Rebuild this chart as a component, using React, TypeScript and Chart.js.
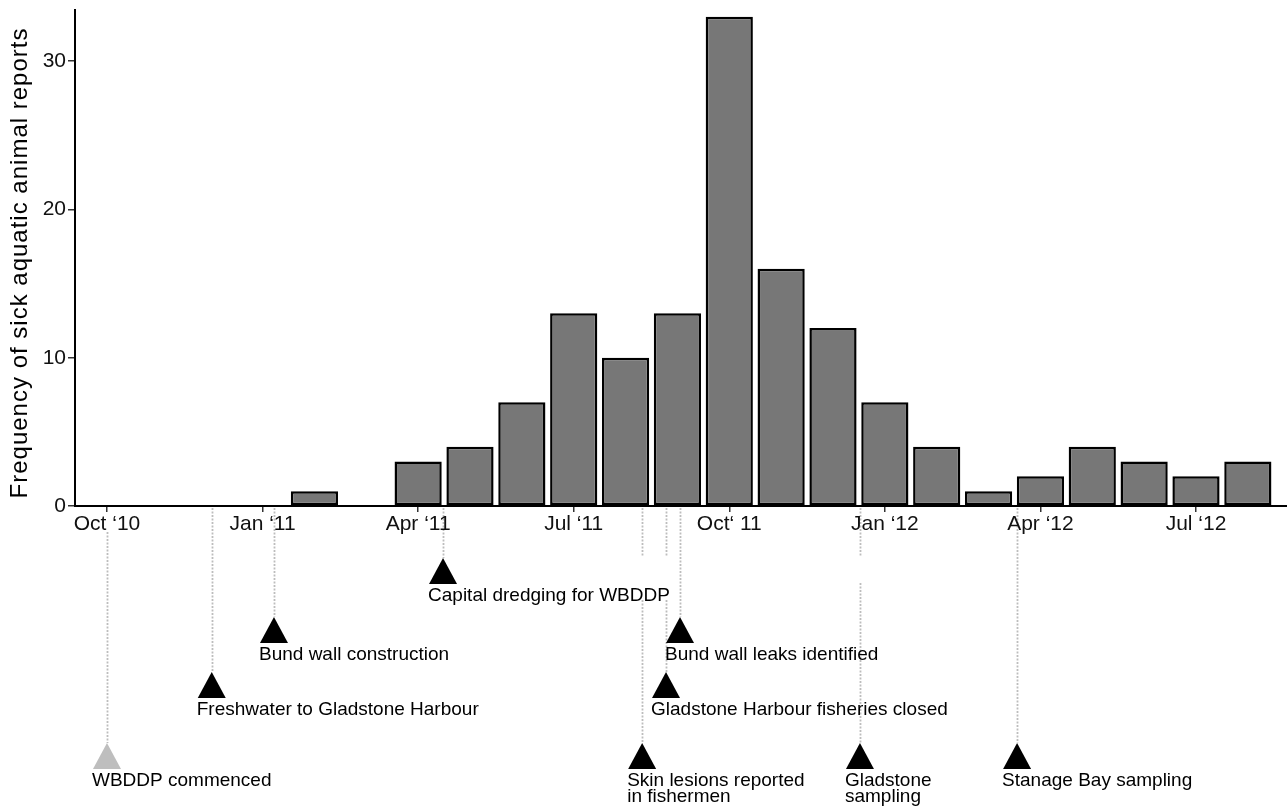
import React, { useEffect, useRef } from "react";
import { Chart, registerables } from "chart.js";

Chart.register(...registerables);

// ---- data ----
const months = [
  "Oct 2010", "Nov 2010", "Dec 2010", "Jan 2011", "Feb 2011", "Mar 2011",
  "Apr 2011", "May 2011", "Jun 2011", "Jul 2011", "Aug 2011", "Sep 2011",
  "Oct 2011", "Nov 2011", "Dec 2011", "Jan 2012", "Feb 2012", "Mar 2012",
  "Apr 2012", "May 2012", "Jun 2012", "Jul 2012", "Aug 2012",
];
const monthIndex = months.map((_, i) => i);
const reports = [0, 0, 0, 0, 1, 0, 3, 4, 7, 13, 10, 13, 33, 16, 12, 7, 4, 1, 2, 4, 3, 2, 3];

const xTickPositions = [0, 3, 6, 9, 12, 15, 18, 21];
const xTickLabels = [
  "Oct \u201810", "Jan \u201811", "Apr \u201811", "Jul \u201811",
  "Oct\u2018 11", "Jan \u201812", "Apr \u201812", "Jul \u201812",
];
const yTicks = [0, 10, 20, 30];
const yTitle = "Frequency of sick aquatic animal reports";

const eventLabels = [
  ["WBDDP commenced"],
  ["Freshwater to Gladstone Harbour"],
  ["Bund wall construction"],
  ["Capital dredging for WBDDP"],
  ["Skin lesions reported", "in fishermen"],
  ["Gladstone Harbour fisheries closed"],
  ["Bund wall leaks identified"],
  ["Gladstone", "sampling"],
  ["Stanage Bay sampling"],
];
// months after Oct 2010
const eventMonths = [0, 2.02, 3.22, 6.48, 10.32, 10.78, 11.05, 14.52, 17.55];
const eventRows = [3, 2, 1, 0, 3, 2, 1, 3, 3];
const eventIsStart = [true, false, false, false, false, false, false, false, false];

// ---- layout / style ----
const FONT = "'Liberation Sans', Arial, Helvetica, sans-serif";
const ROW_APEX = [52, 111, 166, 237];
const TRI_H = 26;
const TRI_HALF = 14;
const LINE_START: Record<number, number> = { 0: 26 };
const LINE_GAPS: Record<number, number[][]> = {
  4: [[51, 94]],
  5: [[51, 94]],
  7: [[51, 77]],
};

const annotationPlugin = {
  id: "eventAnnotations",
  beforeDraw(chart: any) {
    const ctx = chart.ctx;
    const xs = chart.scales.x;
    const base = chart.chartArea.bottom;
    ctx.save();
    ctx.strokeStyle = "#bdbdbd";
    ctx.lineWidth = 1.8;
    ctx.setLineDash([2, 1.5]);
    eventMonths.forEach((m, i) => {
      const x = Math.round(xs.getPixelForValue(m)) + 0.5;
      const end = ROW_APEX[eventRows[i]];
      const gaps = LINE_GAPS[i] || [];
      let start = LINE_START[i] ?? 2;
      const segs: number[][] = [];
      gaps.forEach(([g0, g1]) => {
        segs.push([start, g0]);
        start = g1;
      });
      segs.push([start, end]);
      segs.forEach(([a, b]) => {
        ctx.beginPath();
        ctx.moveTo(x, base + a);
        ctx.lineTo(x, base + b);
        ctx.stroke();
      });
    });
    ctx.restore();
  },
  afterDraw(chart: any) {
    const ctx = chart.ctx;
    const xs = chart.scales.x;
    const area = chart.chartArea;
    const base = area.bottom;
    ctx.save();
    eventMonths.forEach((m, i) => {
      const x = xs.getPixelForValue(m);
      const apex = base + ROW_APEX[eventRows[i]];
      ctx.fillStyle = eventIsStart[i] ? "#bebebe" : "#000";
      ctx.beginPath();
      ctx.moveTo(x, apex);
      ctx.lineTo(x + TRI_HALF, apex + TRI_H);
      ctx.lineTo(x - TRI_HALF, apex + TRI_H);
      ctx.closePath();
      ctx.fill();
      ctx.fillStyle = "#000";
      ctx.font = `19px ${FONT}`;
      ctx.textAlign = "left";
      ctx.textBaseline = "alphabetic";
      eventLabels[i].forEach((line, j) => {
        ctx.fillText(line, x - 15, apex + TRI_H + 17 + j * 16);
      });
    });
    // y axis title
    ctx.translate(27, (area.top + area.bottom) / 2 + 5);
    ctx.rotate(-Math.PI / 2);
    ctx.font = `24px ${FONT}`;
    (ctx as any).letterSpacing = "1px";
    ctx.textAlign = "center";
    ctx.textBaseline = "alphabetic";
    ctx.fillStyle = "#000";
    ctx.fillText(yTitle, 0, 0);
    ctx.restore();
  },
};

export default function App() {
  const canvasRef = useRef<HTMLCanvasElement | null>(null);

  useEffect(() => {
    const canvas = canvasRef.current;
    if (!canvas) return;
    Chart.defaults.font.family = FONT;
    const chart = new Chart(canvas, {
      type: "bar",
      data: {
        datasets: [
          {
            data: reports.map((v, i) => ({ x: monthIndex[i], y: v })),
            backgroundColor: "#777777",
            borderColor: "#000000",
            borderWidth: 2.5,
            borderSkipped: false,
            barPercentage: 0.91,
            categoryPercentage: 1,
          } as any,
        ],
      },
      options: {
        responsive: false,
        animation: false,
        layout: { padding: { top: 10, right: 0, left: 0, bottom: 0 } },
        plugins: {
          legend: { display: false },
          tooltip: { enabled: false },
          title: { display: false },
        },
        scales: {
          x: {
            type: "linear",
            offset: false,
            min: -0.617,
            max: 22.755,
            afterBuildTicks: (s: any) => {
              s.ticks = xTickPositions.map((v) => ({ value: v }));
            },
            afterFit: (s: any) => {
              s.height = 300;
              s.paddingLeft = 0;
              s.paddingRight = 0;
            },
            ticks: {
              autoSkip: false,
              maxRotation: 0,
              minRotation: 0,
              padding: 0,
              color: "#111",
              font: { size: 21 },
              callback: (v: any) => {
                const k = xTickPositions.indexOf(Number(v));
                return k >= 0 ? xTickLabels[k] : "";
              },
            },
            grid: {
              display: true,
              offset: false,
              drawOnChartArea: false,
              drawTicks: true,
              tickLength: 6,
              color: "#333",
              lineWidth: 1.5,
            },
            border: { display: true, color: "#000", width: 2 },
          } as any,
          y: {
            min: 0,
            max: 33.45,
            afterBuildTicks: (s: any) => {
              s.ticks = yTicks.map((v) => ({ value: v }));
            },
            afterFit: (s: any) => {
              s.width = 75;
              s.paddingTop = 0;
              s.paddingBottom = 0;
            },
            ticks: {
              padding: 2,
              color: "#111",
              font: { size: 21 },
            },
            grid: {
              display: true,
              drawOnChartArea: false,
              drawTicks: true,
              tickLength: 7,
              color: "#333",
              lineWidth: 1.5,
            },
            border: { display: true, color: "#000", width: 2 },
          },
        },
      },
      plugins: [annotationPlugin],
    });
    return () => chart.destroy();
  }, []);

  return (
    <div style={{ position: "fixed", left: 0, top: 0, width: 1287, height: 806, background: "#fff" }}>
      <canvas ref={canvasRef} width={1287} height={806} style={{ width: 1287, height: 806, display: "block" }} />
    </div>
  );
}
